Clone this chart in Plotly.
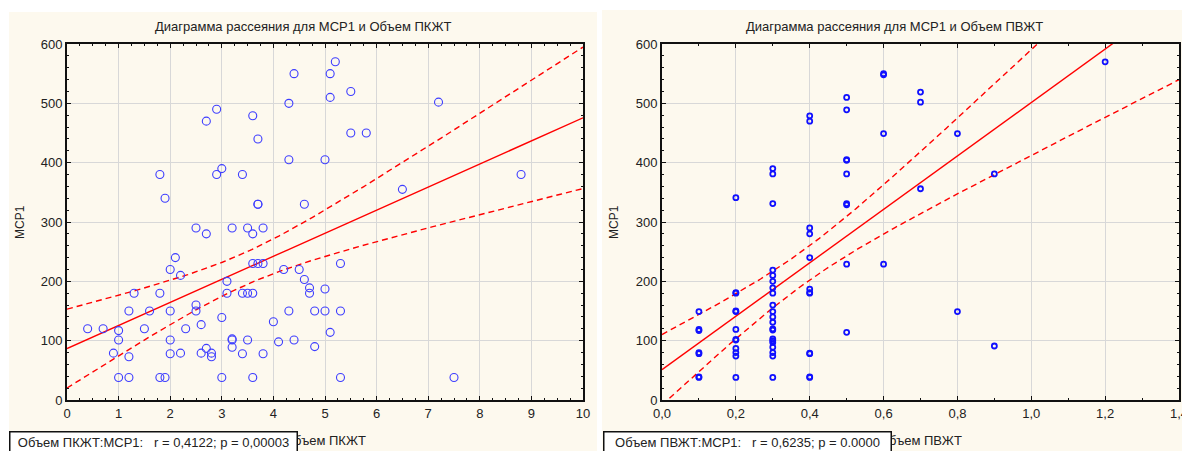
import numpy as np
import plotly.graph_objects as go

W, H = 1182, 451

# ---- data: Объем ПКЖТ vs MCP1 ----
pkzht_vol = [5.2, 4.4, 5.1, 5.5, 4.3, 5.1, 7.2, 2.9, 2.7, 3.6, 3.7, 5.5, 5.8, 4.3, 5.0,
             1.8, 2.9, 3.0, 3.4, 8.8, 1.9, 6.5, 3.7, 3.7, 4.6,
             2.5, 3.2, 3.5, 3.8, 2.7, 3.6,
             2.1, 2.0, 2.2, 3.6, 3.7, 3.8, 4.2, 4.5, 5.3, 3.1, 4.6, 4.7, 4.7, 5.0,
             1.3, 1.8, 3.1, 3.4, 3.5, 3.6,
             1.2, 1.6, 2.0, 2.5, 2.5, 4.3, 4.8, 5.0, 5.3, 3.0, 2.6, 4.0,
             0.4, 0.7, 1.0, 1.5, 2.3, 5.1,
             1.0, 2.0, 3.2, 3.2, 3.5, 4.4, 4.1, 3.2, 4.8, 2.7,
             0.9, 2.0, 2.2, 2.6, 2.8, 2.8, 3.4, 3.8, 1.2,
             1.0, 1.2, 1.8, 1.9, 3.0, 3.6, 5.3, 7.5]
pkzht_mcp1 = [570, 550, 550, 520, 500, 510, 502, 490, 470, 479, 440, 450, 450, 405, 405,
              380, 380, 390, 380, 380, 340, 355, 330, 330, 330,
              290, 290, 290, 290, 280, 280,
              240, 220, 210, 230, 230, 230, 220, 220, 230, 200, 203, 189, 180, 187,
              180, 180, 180, 180, 180, 180,
              150, 150, 150, 160, 150, 150, 150, 150, 150, 139, 127, 132,
              120, 120, 117, 120, 120, 114,
              101, 101, 101, 103, 101, 101, 98, 89, 90, 87,
              79, 78, 79, 79, 79, 73, 78, 78, 73,
              38, 38, 38, 38, 38, 38, 38, 38]

# ---- data: Объем ПВЖТ vs MCP1 ----
pvzht_vol = [1.2, 0.6, 0.6, 0.7, 0.7, 0.5, 0.5, 0.4, 0.4, 0.6, 0.8, 0.5, 0.5, 0.5,
             0.3, 0.3, 0.9, 0.7, 0.2, 0.3, 0.5, 0.5,
             0.4, 0.4, 0.4, 0.5, 0.6,
             0.3, 0.3, 0.3, 0.3, 0.3, 0.4, 0.4, 0.4, 0.2, 0.2,
             0.2, 0.2, 0.1, 0.3, 0.3, 0.3, 0.3, 0.3, 0.3, 0.2, 0.1, 0.1, 0.5,
             0.2, 0.2, 0.3, 0.3, 0.3, 0.3, 0.2, 0.9, 0.8,
             0.2, 0.2, 0.1, 0.1, 0.3, 0.3, 0.4, 0.4,
             0.1, 0.1, 0.2, 0.3, 0.4, 0.4]
pvzht_mcp1 = [570, 548, 550, 519, 502, 510, 489, 479, 470, 449, 449, 405, 404, 381,
              390, 381, 381, 356, 341, 331, 331, 329,
              290, 280, 240, 229, 229,
              219, 210, 200, 189, 180, 187, 181, 180, 181, 180,
              149, 150, 149, 160, 149, 140, 131, 120, 118, 119, 119, 117, 114,
              102, 101, 103, 100, 97, 89, 87, 91, 149,
              80, 74, 80, 78, 80, 74, 79, 78,
              38, 39, 38, 38, 38, 39]

titles = ["Диаграмма рассеяния для MCP1 и Объем ПКЖТ",
          "Диаграмма рассеяния для MCP1 и Объем ПВЖТ"]
x_titles = ["Объем ПКЖТ", "Объем ПВЖТ"]
y_title = "MCP1"
stat_labels = ["Объем ПКЖТ:MCP1:   r = 0,4122; p = 0,00003",
               "Объем ПВЖТ:MCP1:   r = 0,6235; p = 0.0000"]

T_CRIT_95 = 1.99


def px_x(p):
    return p / W


def px_y(p):
    return 1 - p / H


def regression_band(x, y, x_max):
    """Least-squares line with its 95% confidence band for the mean."""
    x = np.asarray(x, float)
    y = np.asarray(y, float)
    n = len(x)
    xbar, ybar = x.mean(), y.mean()
    sxx = ((x - xbar) ** 2).sum()
    b = ((x - xbar) * (y - ybar)).sum() / sxx
    a = ybar - b * xbar
    s = np.sqrt(((y - (a + b * x)) ** 2).sum() / (n - 2))
    xs = np.linspace(0, x_max, 300)
    fit = a + b * xs
    half = T_CRIT_95 * s * np.sqrt(1 / n + (xs - xbar) ** 2 / sxx)
    return xs, fit, fit - half, fit + half


fig = go.Figure()

RED = "#ff0000"
panels = [
    dict(x=pkzht_vol, y=pkzht_mcp1, xmax=10, xa="x", ya="y",
         msize=8, mwidth=1.1, mcolor="#3d3dff"),
    dict(x=pvzht_vol, y=pvzht_mcp1, xmax=1.4, xa="x2", ya="y2",
         msize=5, mwidth=1.8, mcolor="#1010ff"),
]

for p in panels:
    xs, fit, lo, hi = regression_band(p["x"], p["y"], p["xmax"])
    for band in (lo, hi):
        fig.add_trace(go.Scatter(x=xs, y=band, mode="lines", xaxis=p["xa"], yaxis=p["ya"],
                                 line=dict(color=RED, width=1.4, dash="6px,4px"),
                                 showlegend=False, hoverinfo="skip"))
    fig.add_trace(go.Scatter(x=xs, y=fit, mode="lines", xaxis=p["xa"], yaxis=p["ya"],
                             line=dict(color=RED, width=1.4),
                             showlegend=False, hoverinfo="skip"))
    fig.add_trace(go.Scatter(x=p["x"], y=p["y"], mode="markers", xaxis=p["xa"], yaxis=p["ya"],
                             marker=dict(symbol="circle-open", size=p["msize"],
                                         color=p["mcolor"],
                                         line=dict(width=p["mwidth"], color=p["mcolor"])),
                             showlegend=False))

FONT = "Liberation Sans, Arial, sans-serif"
axis_common = dict(
    automargin=False, ticklabeloverflow="allow",
    showline=True, linecolor="#111", linewidth=2, mirror="ticks",
    ticks="inside", ticklen=4, tickwidth=1, tickcolor="#111",
    showgrid=True, gridcolor="#d8d8d8", gridwidth=1, zeroline=False,
    tickfont=dict(family=FONT, size=13, color="#222"),
)

y_dom = [px_y(400), px_y(44)]
fig.update_layout(
    width=W, height=H,
    margin=dict(l=0, r=0, t=0, b=0, pad=0, autoexpand=False),
    paper_bgcolor="white", plot_bgcolor="white",
    separators=", ",
    showlegend=False,
    xaxis=dict(domain=[px_x(67), px_x(583)], range=[0, 10], dtick=1, anchor="y",
               minor=dict(ticks="inside", ticklen=2, dtick=0.25, tickcolor="#111", showgrid=False),
               **axis_common),
    yaxis=dict(domain=y_dom, range=[0, 600], dtick=100, anchor="x",
               minor=dict(ticks="inside", ticklen=2, dtick=20, tickcolor="#111", showgrid=False),
               **axis_common),
    xaxis2=dict(domain=[px_x(662), px_x(1179)], range=[0, 1.40001], dtick=0.2, tickformat=".1f",
                anchor="y2",
                minor=dict(ticks="inside", ticklen=2, dtick=0.1, tickcolor="#111", showgrid=False),
                **axis_common),
    yaxis2=dict(domain=y_dom, range=[0, 600], dtick=100, anchor="x2",
                minor=dict(ticks="inside", ticklen=2, dtick=20, tickcolor="#111", showgrid=False),
                **axis_common),
)

# cream panel backgrounds behind each chart
for x0, x1, y0 in [(9, 597, 12), (602, 1182, 10)]:
    fig.add_shape(type="rect", xref="paper", yref="paper",
                  x0=px_x(x0), x1=px_x(x1), y0=px_y(H), y1=px_y(y0),
                  fillcolor="#fdf9ee", line=dict(width=0), layer="below")

annotations = []
panel_centers = [303, 894]
plot_centers = [325, 920]
y_title_x = [20, 614]
box_left = [9, 603]
for i in range(2):
    annotations.append(dict(text=titles[i], xref="paper", yref="paper",
                            x=px_x(panel_centers[i]), y=px_y(27), xanchor="center", yanchor="middle",
                            showarrow=False, font=dict(family=FONT, size=13, color="#222")))
    annotations.append(dict(text=y_title, xref="paper", yref="paper", textangle=-90,
                            x=px_x(y_title_x[i]), y=px_y(222), xanchor="center", yanchor="middle",
                            showarrow=False, font=dict(family=FONT, size=12, color="#222")))
    annotations.append(dict(text=x_titles[i], xref="paper", yref="paper",
                            x=px_x(plot_centers[i]), y=px_y(440), xanchor="center", yanchor="middle",
                            showarrow=False, font=dict(family=FONT, size=13, color="#222")))
for i in range(2):
    annotations.append(dict(text=stat_labels[i].replace(" ", "\u00a0"), xref="paper", yref="paper",
                            x=px_x(box_left[i]), y=px_y(431), xanchor="left", yanchor="top",
                            align="center", width=282, showarrow=False,
                            bgcolor="white", bordercolor="#111", borderwidth=1.5, borderpad=2,
                            font=dict(family=FONT, size=13, color="#222")))
fig.update_layout(annotations=annotations)

fig.write_html("out.html")
